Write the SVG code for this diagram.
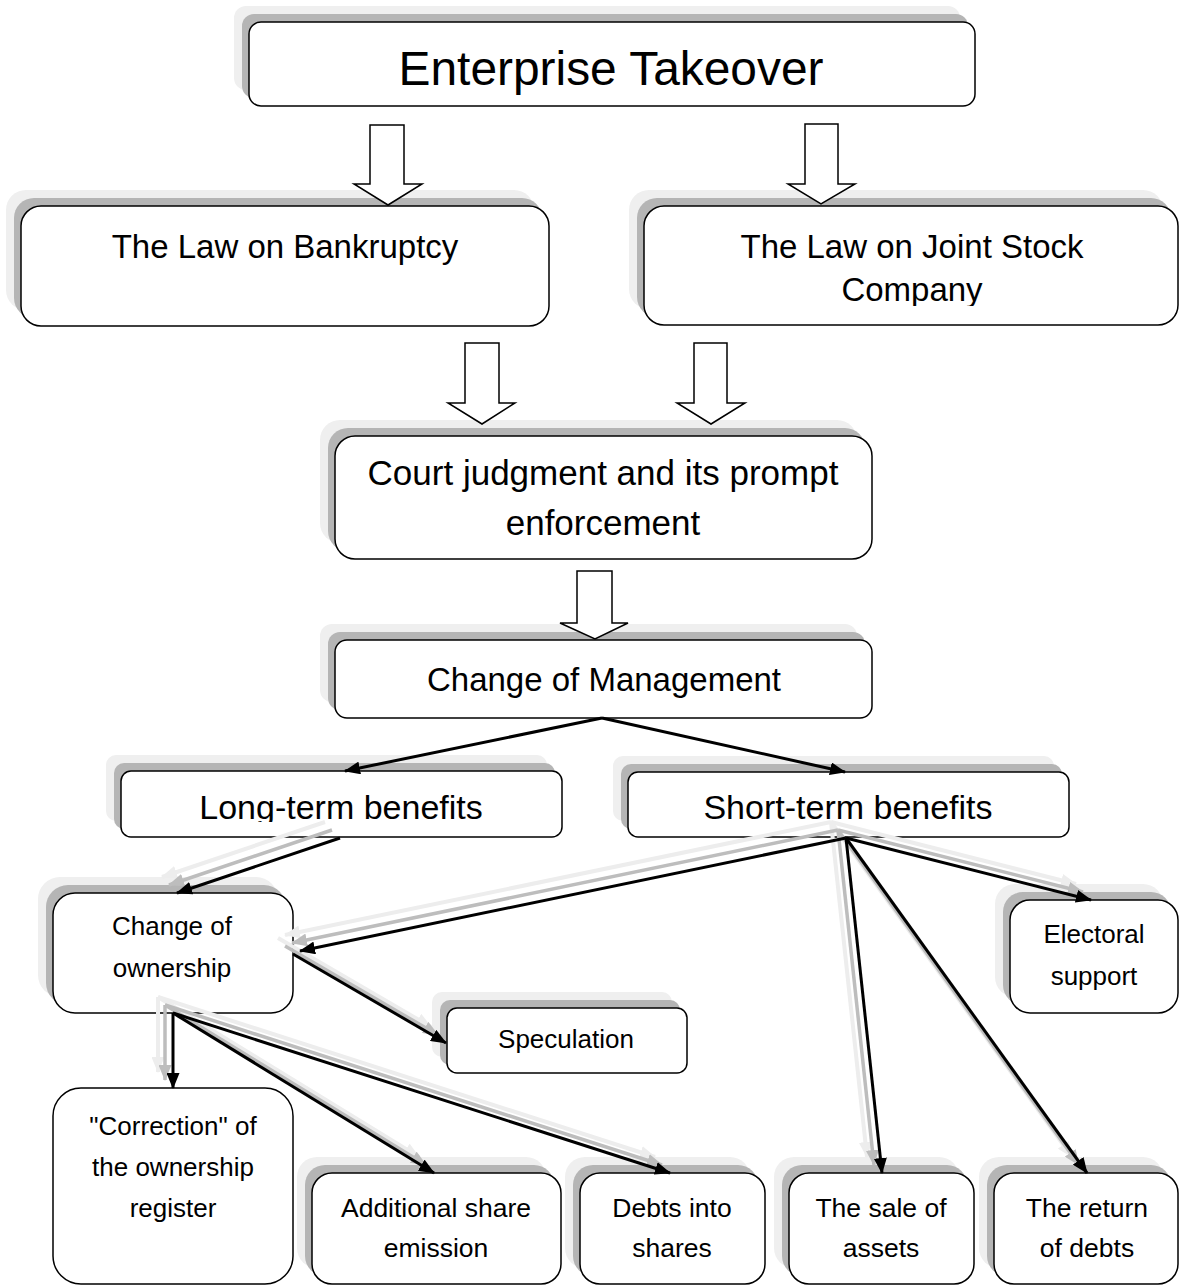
<svg xmlns="http://www.w3.org/2000/svg" xmlns:xlink="http://www.w3.org/1999/xlink" width="1179" height="1286" viewBox="0 0 1179 1286">
<style>
.box{fill:#fff;stroke:#000;stroke-width:1.5}
.sd{fill:#b5b5b5}
.sl{fill:#efefef}
.t{font-family:"Liberation Sans",Arial,sans-serif;fill:#000;text-anchor:middle}
.blk{fill:#fff;stroke:#000;stroke-width:1.5;stroke-linejoin:miter}
.c{stroke:#000;stroke-width:3;fill:none;marker-end:url(#ab)}
.cg{stroke:#bdbdbd;stroke-width:3.5;fill:none;marker-end:url(#ag)}
.cl{stroke:#ededed;stroke-width:4;fill:none;marker-end:url(#al)}
</style>
<defs>
<marker id="ab" markerUnits="userSpaceOnUse" markerWidth="16" markerHeight="13" refX="15" refY="6.5" orient="auto"><path d="M0,0 L16,6.5 L0,13 z" fill="#000"/></marker>
<marker id="ag" markerUnits="userSpaceOnUse" markerWidth="16" markerHeight="13" refX="15" refY="6.5" orient="auto"><path d="M0,0 L16,6.5 L0,13 z" fill="#bdbdbd"/></marker>
<marker id="al" markerUnits="userSpaceOnUse" markerWidth="16" markerHeight="13" refX="15" refY="6.5" orient="auto"><path d="M0,0 L16,6.5 L0,13 z" fill="#ededed"/></marker>
<clipPath id="clipJsc"><rect x="644" y="206" width="534" height="100"/></clipPath>
<clipPath id="clipLong"><rect x="121" y="771" width="441" height="51"/></clipPath>
</defs>
<rect width="1179" height="1286" fill="#fff"/>

<g id="n-enterprise">
<rect class="sl" x="234" y="6" width="726" height="84" rx="12"/>
<rect class="sd" x="242" y="14" width="726" height="84" rx="12"/>
<rect class="box" x="249" y="22" width="726" height="84" rx="12"/>
<text class="t" x="611" y="85" font-size="48" textLength="425" lengthAdjust="spacingAndGlyphs">Enterprise Takeover</text>
</g>

<g id="n-bankruptcy">
<rect class="sl" x="6" y="190" width="528" height="120" rx="20"/>
<rect class="sd" x="14" y="198" width="528" height="120" rx="20"/>
<rect class="box" x="21" y="206" width="528" height="120" rx="20"/>
<text class="t" x="285" y="258" font-size="33">The Law on Bankruptcy</text>
</g>

<g id="n-jsc">
<rect class="sl" x="629" y="190" width="534" height="119" rx="20"/>
<rect class="sd" x="637" y="198" width="534" height="119" rx="20"/>
<rect class="box" x="644" y="206" width="534" height="119" rx="20"/>
<g clip-path="url(#clipJsc)">
<text class="t" x="912" y="258" font-size="33">The Law on Joint Stock</text>
<text class="t" x="912" y="301" font-size="33">Company</text>
</g>
</g>

<g id="n-court">
<rect class="sl" x="320" y="420" width="537" height="123" rx="20"/>
<rect class="sd" x="328" y="428" width="537" height="123" rx="20"/>
<rect class="box" x="335" y="436" width="537" height="123" rx="20"/>
<text class="t" x="603" y="485" font-size="35">Court judgment and its prompt</text>
<text class="t" x="603" y="535" font-size="35">enforcement</text>
</g>

<g id="n-mgmt">
<rect class="sl" x="320" y="624" width="537" height="78" rx="12"/>
<rect class="sd" x="328" y="632" width="537" height="78" rx="12"/>
<rect class="box" x="335" y="640" width="537" height="78" rx="12"/>
<text class="t" x="604" y="691" font-size="33">Change of Management</text>
</g>

<g id="n-long">
<rect class="sl" x="106" y="755" width="441" height="66" rx="10"/>
<rect class="sd" x="114" y="763" width="441" height="66" rx="10"/>
<rect class="box" x="121" y="771" width="441" height="66" rx="10"/>
<text class="t" x="341" y="819" font-size="34" clip-path="url(#clipLong)">Long-term benefits</text>
</g>

<g id="n-short">
<rect class="sl" x="613" y="756" width="441" height="65" rx="10"/>
<rect class="sd" x="621" y="764" width="441" height="65" rx="10"/>
<rect class="box" x="628" y="772" width="441" height="65" rx="10"/>
<text class="t" x="848" y="819" font-size="34">Short-term benefits</text>
</g>

<g id="n-ownership">
<rect class="sl" x="38" y="877" width="240" height="120" rx="22"/>
<rect class="sd" x="46" y="885" width="240" height="120" rx="22"/>
<rect class="box" x="53" y="893" width="240" height="120" rx="22"/>
<text class="t" x="172" y="935" font-size="26">Change of</text>
<text class="t" x="172" y="977" font-size="26">ownership</text>
</g>

<g id="n-speculation">
<rect class="sl" x="432" y="992" width="240" height="65" rx="10"/>
<rect class="sd" x="440" y="1000" width="240" height="65" rx="10"/>
<rect class="box" x="447" y="1008" width="240" height="65" rx="10" stroke-width="4"/>
<text class="t" x="566" y="1048" font-size="26">Speculation</text>
</g>

<g id="n-electoral">
<rect class="sl" x="995" y="884" width="168" height="113" rx="20"/>
<rect class="sd" x="1003" y="892" width="168" height="113" rx="20"/>
<rect class="box" x="1010" y="900" width="168" height="113" rx="20"/>
<text class="t" x="1094" y="943" font-size="26">Electoral</text>
<text class="t" x="1094" y="985" font-size="26">support</text>
</g>

<g id="n-correction">
<rect class="box" x="53" y="1088" width="240" height="196" rx="28"/>
<text class="t" x="173" y="1135" font-size="26">"Correction" of</text>
<text class="t" x="173" y="1176" font-size="26">the ownership</text>
<text class="t" x="173" y="1217" font-size="26">register</text>
</g>

<g id="n-additional">
<rect class="sl" x="297" y="1157" width="249" height="111" rx="20"/>
<rect class="sd" x="305" y="1165" width="249" height="111" rx="20"/>
<rect class="box" x="312" y="1173" width="249" height="111" rx="20"/>
<text class="t" x="436" y="1217" font-size="26.5">Additional share</text>
<text class="t" x="436" y="1257" font-size="26.5">emission</text>
</g>

<g id="n-debts">
<rect class="sl" x="565" y="1157" width="185" height="111" rx="20"/>
<rect class="sd" x="573" y="1165" width="185" height="111" rx="20"/>
<rect class="box" x="580" y="1173" width="185" height="111" rx="20"/>
<text class="t" x="672" y="1217" font-size="26.5">Debts into</text>
<text class="t" x="672" y="1257" font-size="26.5">shares</text>
</g>

<g id="n-sale">
<rect class="sl" x="774" y="1157" width="185" height="111" rx="20"/>
<rect class="sd" x="782" y="1165" width="185" height="111" rx="20"/>
<rect class="box" x="789" y="1173" width="185" height="111" rx="20"/>
<text class="t" x="881" y="1217" font-size="26.5">The sale of</text>
<text class="t" x="881" y="1257" font-size="26.5">assets</text>
</g>

<g id="n-return">
<rect class="sl" x="979" y="1157" width="184" height="111" rx="20"/>
<rect class="sd" x="987" y="1165" width="184" height="111" rx="20"/>
<rect class="box" x="994" y="1173" width="184" height="111" rx="20"/>
<text class="t" x="1087" y="1217" font-size="26.5">The return</text>
<text class="t" x="1087" y="1257" font-size="26.5">of debts</text>
</g>

<g id="connectors">
<!-- block arrows -->
<polygon class="blk" points="370,125 404,125 404,184 422,184 388,205 354,184 370,184"/>
<polygon class="blk" points="805,124 838,124 838,184 855,184 821,204 788,184 805,184"/>
<polygon class="blk" points="465,343 499,343 499,403 515,403 482,424 448,403 465,403"/>
<polygon class="blk" points="694,343 727,343 727,403 745,403 711,424 677,403 694,403"/>
<polygon class="blk" points="577,571 612,571 612,623 628,623 595,639 560,623 577,623"/>

<!-- light shadows -->
<g>
<line class="cl" x1="325" y1="822" x2="162" y2="877"/>
<line class="cl" x1="831" y1="822" x2="285" y2="935"/>
<line class="cl" x1="831" y1="822" x2="1076" y2="884"/>
<line class="cl" x1="831" y1="822" x2="867" y2="1157"/>
<line class="cl" x1="831" y1="822" x2="1072" y2="1157"/>
<line class="cl" x1="278" y1="938" x2="431" y2="1027"/>
<line class="cl" x1="158" y1="997" x2="158" y2="1072"/>
<line class="cl" x1="158" y1="997" x2="419" y2="1157"/>
<line class="cl" x1="158" y1="997" x2="655" y2="1157"/>
</g>
<!-- gray shadows -->
<g>
<line class="cg" x1="332" y1="830" x2="169" y2="885"/>
<line class="cg" x1="838" y1="830" x2="292" y2="943"/>
<line class="cg" x1="838" y1="830" x2="1083" y2="892"/>
<line class="cg" x1="838" y1="830" x2="874" y2="1165"/>
<line class="cg" x1="838" y1="830" x2="1079" y2="1165"/>
<line class="cg" x1="285" y1="946" x2="438" y2="1035"/>
<line class="cg" x1="165" y1="1005" x2="165" y2="1080"/>
<line class="cg" x1="165" y1="1005" x2="426" y2="1165"/>
<line class="cg" x1="165" y1="1005" x2="662" y2="1165"/>
</g>
<!-- black connectors -->
<g>
<line class="c" x1="602" y1="718" x2="345" y2="771"/>
<line class="c" x1="602" y1="718" x2="845" y2="772"/>
<line class="c" x1="340" y1="838" x2="177" y2="893"/>
<line class="c" x1="846" y1="838" x2="300" y2="951"/>
<line class="c" x1="846" y1="838" x2="1091" y2="900"/>
<line class="c" x1="846" y1="838" x2="882" y2="1173"/>
<line class="c" x1="846" y1="838" x2="1087" y2="1173"/>
<line class="c" x1="293" y1="954" x2="446" y2="1043"/>
<line class="c" x1="173" y1="1013" x2="173" y2="1088"/>
<line class="c" x1="173" y1="1013" x2="434" y2="1173"/>
<line class="c" x1="173" y1="1013" x2="670" y2="1173"/>
</g>
</g>
</svg>
